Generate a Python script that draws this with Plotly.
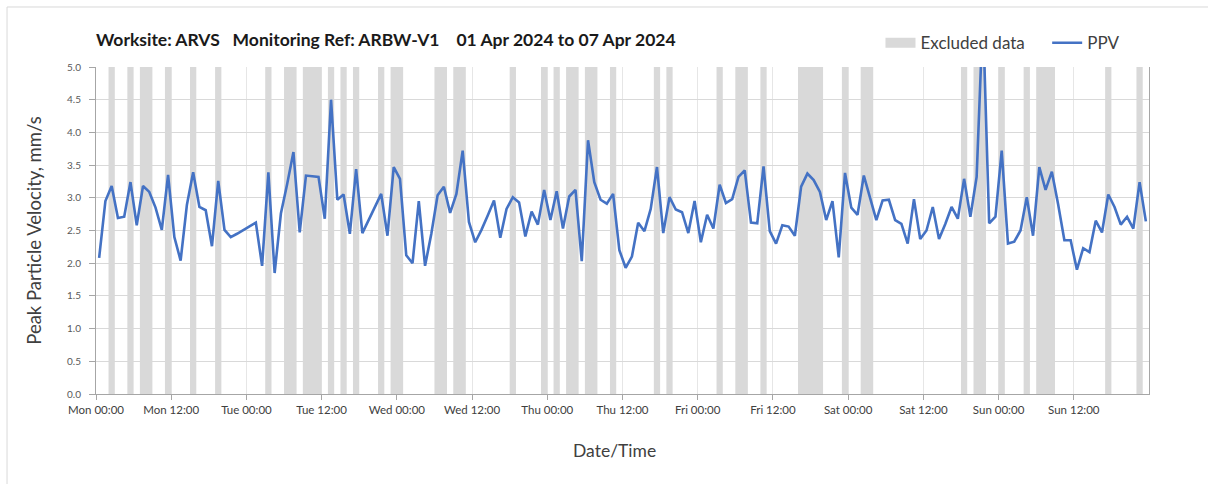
import pandas as pd
import plotly.graph_objects as go

# Hourly PPV readings (mm/s), each plotted at the middle of its hour, starting Mon 01 Apr 2024
period_start = "2024-04-01 00:00"
ppv = [
    2.08, 2.95, 3.18, 2.69, 2.71, 3.24, 2.58, 3.18, 3.09, 2.85, 2.51, 3.35,
    2.40, 2.04, 2.89, 3.39, 2.86, 2.81, 2.26, 3.26, 2.51, 2.40, 2.45, 2.51,
    2.57, 2.62, 1.96, 3.39, 1.85, 2.76, 3.21, 3.70, 2.47, 3.34, 3.33, 3.32,
    2.68, 4.50, 2.97, 3.05, 2.45, 3.44, 2.46, 2.66, 2.86, 3.06, 2.42, 3.47,
    3.29, 2.12, 2.00, 2.95, 1.96, 2.45, 3.04, 3.17, 2.77, 3.06, 3.72, 2.63,
    2.32, 2.51, 2.73, 2.96, 2.39, 2.83, 3.01, 2.93, 2.41, 2.79, 2.59, 3.12,
    2.66, 3.10, 2.53, 3.02, 3.12, 2.03, 3.88, 3.24, 2.97, 2.91, 3.06, 2.20,
    1.93, 2.10, 2.62, 2.49, 2.83, 3.47, 2.46, 3.01, 2.82, 2.78, 2.46, 2.95,
    2.32, 2.74, 2.53, 3.20, 2.92, 2.98, 3.32, 3.42, 2.62, 2.61, 3.48, 2.49,
    2.30, 2.58, 2.56, 2.42, 3.17, 3.37, 3.27, 3.09, 2.66, 2.95, 2.09, 3.38,
    2.85, 2.74, 3.34, 3.01, 2.66, 2.96, 2.97, 2.66, 2.60, 2.30, 2.98, 2.37,
    2.50, 2.86, 2.37, 2.60, 2.86, 2.68, 3.29, 2.71, 3.32, 5.80, 2.61, 2.71,
    3.72, 2.30, 2.33, 2.50, 3.01, 2.42, 3.47, 3.12, 3.40, 2.90, 2.35, 2.35,
    1.90, 2.23, 2.17, 2.65, 2.47, 3.05, 2.86, 2.59, 2.71, 2.53, 3.24, 2.64,
]

# Excluded-data windows: start (hours after period start) and length (hours)
excl_start_h = [2, 5, 7, 11, 15, 19, 27, 30, 33, 37, 39, 41, 45, 47, 54, 57, 66, 71, 73,
                75, 78, 82, 89, 91, 99, 102, 106, 112, 119, 122, 138, 140, 144, 148,
                150, 161, 166]
excl_len_h = [1, 1, 2, 1, 1, 1, 1, 2, 3, 1, 1, 1, 1, 2, 2, 2, 1, 1, 1,
              2, 2, 1, 1, 1, 1, 2, 1, 4, 1, 2, 1, 2, 1, 1,
              3, 1, 1]

y_max = 5.0
t0 = pd.Timestamp(period_start)
times = [t0 + pd.Timedelta(hours=i + 0.5) for i in range(len(ppv))]
excl_mid = [t0 + pd.Timedelta(hours=s + l / 2) for s, l in zip(excl_start_h, excl_len_h)]
excl_width_ms = [l * 3600 * 1000 for l in excl_len_h]
# labelled ticks every 12 h, the closing midnight left unlabelled
tick_times = [t0 + pd.Timedelta(hours=12 * i) for i in range(14)]

FONT = "Lato"
TXT = "#404040"
BAND = "#d9d9d9"
NB = "\u00a0"

fig = go.Figure()
fig.add_bar(
    x=excl_mid, y=[y_max] * len(excl_mid), width=excl_width_ms,
    marker=dict(color=BAND, line=dict(width=0)),
    name="Excluded data", hoverinfo="skip", showlegend=False,
)
# legend swatch for the excluded windows (wide flat rectangle)
fig.add_scatter(
    x=[None], y=[None], mode="lines",
    line=dict(color=BAND, width=10),
    name="Excluded data" + NB * 4, hoverinfo="skip",
)
fig.add_scatter(
    x=times, y=ppv, mode="lines",
    line=dict(color="#4472C4", width=2.6),
    name="PPV",
)

title_text = ("Worksite: ARVS" + NB * 3 + "Monitoring Ref: ARBW-V1" + NB * 4 +
              "01 Apr 2024 to 07 Apr 2024")

fig.update_layout(
    width=1208, height=484,
    margin=dict(l=96, r=59, t=67, b=90),
    paper_bgcolor="white", plot_bgcolor="white",
    font=dict(family=FONT, color=TXT),
    barmode="overlay",
    title=dict(
        text="<b>" + title_text + "</b>",
        font=dict(family=FONT, size=17.5, color="#1a1a1a"),
        xref="paper", x=0, xanchor="left",
        yref="container", y=1 - 40 / 484, yanchor="middle",
    ),
    legend=dict(
        orientation="h", x=0.745, y=1.073, xanchor="left", yanchor="middle",
        font=dict(family=FONT, size=17, color=TXT),
        bgcolor="rgba(0,0,0,0)", itemwidth=30,
    ),
    showlegend=True,
    shapes=[dict(
        type="rect", xref="paper", yref="paper",
        x0=-0.0845, x1=1.2, y0=-0.6, y1=1.1835,
        line=dict(color="#d9d9d9", width=1), fillcolor="rgba(0,0,0,0)",
        layer="below",
    )],
    annotations=[dict(
        text="Date/Time", xref="paper", yref="paper",
        x=0.492, y=-0.174, xanchor="center", yanchor="middle",
        showarrow=False, font=dict(family=FONT, size=17.5, color=TXT),
    )],
)

fig.update_xaxes(
    type="date",
    range=[t0, t0 + pd.Timedelta(days=7)],
    tickmode="array", tickvals=tick_times, tickformat="%a %H:%M",
    showgrid=True, gridcolor="#e6e6e6", gridwidth=1,
    showline=True, linecolor="#a6a6a6", linewidth=1,
    ticks="outside", ticklen=5, tickcolor="#a6a6a6",
    tickfont=dict(family=FONT, size=11.5, color=TXT),
    zeroline=False,
)
fig.update_yaxes(
    range=[0, y_max], dtick=0.5, tickformat=".1f",
    showgrid=True, gridcolor="#d9d9d9", gridwidth=1,
    showline=True, linecolor="#a6a6a6", linewidth=1, mirror=True,
    ticks="outside", ticklen=6, tickcolor="#a6a6a6",
    ticklabelstandoff=6,
    tickfont=dict(family=FONT, size=10, color="#595959"),
    title=dict(text="Peak Particle Velocity, mm/s",
               font=dict(family=FONT, size=18.5, color=TXT), standoff=20),
    zeroline=False,
)

fig.write_html("out.html")
